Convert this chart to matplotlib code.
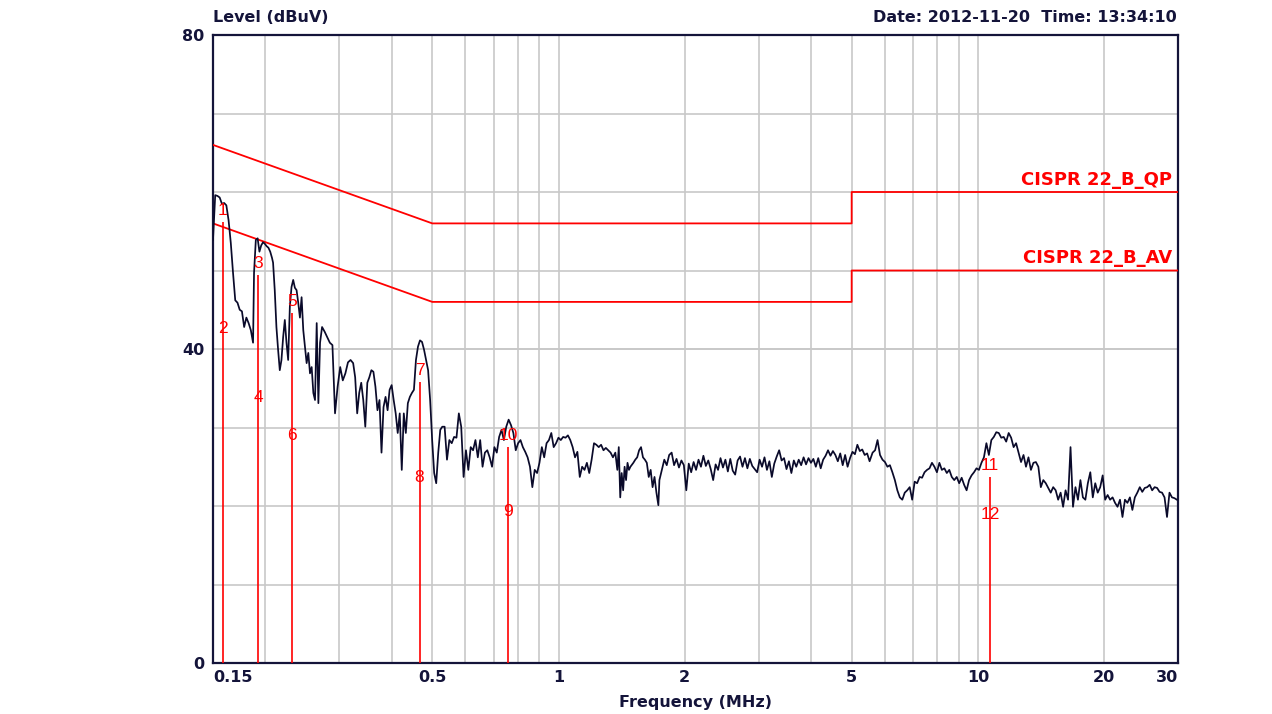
import numpy as np
import matplotlib
matplotlib.use("Agg")
import matplotlib.pyplot as plt
from matplotlib.ticker import NullFormatter

# ---------------- data ----------------
# Measured trace, stored as sweep segments (start MHz, end MHz, levels dBuV, log-spaced sweep points)
seg_start_mhz = [0.150, 0.1879, 0.2086, 0.2730, 0.3274, 0.5281, 1.381, 1.508, 1.740, 5.609]
seg_end_mhz = [0.1869, 0.2074, 0.2700, 0.3238, 0.5224, 1.366, 1.484, 1.730, 5.517, 29.82]

lvl_seg1 = [53.9, 59.6, 59.5, 59.3, 58.5, 58.6, 58.3, 56.4, 53.5, 49.7, 46.2, 45.9, 45.0, 44.8,
            42.8, 44.0, 43.3, 42.4, 40.8]
lvl_seg2 = [49.7, 53.9, 54.1, 52.4, 53.2, 53.6, 53.4, 53.1, 52.9, 52.4, 51.6]
lvl_seg3 = [51.0, 47.5, 42.8, 39.9, 37.3, 38.6, 41.5, 43.7, 40.8, 38.6, 45.4, 47.9, 48.8, 47.8,
            47.5, 45.9, 44.0, 46.6, 42.4, 40.3, 38.2, 39.5, 36.9, 37.7, 34.4, 33.5, 43.3, 33.1, 40.8]
lvl_seg4 = [42.8, 42.2, 41.5, 40.8, 40.5, 31.8, 35.2, 37.7, 36.0, 36.9, 38.3, 38.6, 38.2]
lvl_seg5 = [36.4, 31.8, 34.4, 35.7, 33.5, 30.1, 35.7, 36.4, 37.3, 37.1, 35.2, 32.2, 33.5, 26.8,
            32.6, 33.9, 32.2, 34.8, 35.4, 33.5, 31.8, 29.3, 31.8, 24.6, 31.8, 29.3, 33.1, 33.9,
            34.4, 34.8, 38.6, 40.3, 41.1, 40.9, 39.9, 38.6, 37.3, 33.5, 28.4, 24.2, 22.9, 26.8, 29.7]
lvl_seg6 = [30.1, 30.1, 25.9, 28.4, 28.0, 28.8, 28.7, 31.8, 30.1, 23.7,
            27.1, 24.6, 27.5, 27.1, 28.4, 26.2, 28.4, 25.0, 26.8, 27.1,
            26.2, 25.0, 27.5, 26.8, 28.8, 29.7, 28.4, 30.1, 31.0, 30.3,
            29.3, 27.1, 28.0, 28.4, 27.5, 26.9, 26.2, 25.0, 22.4, 24.6,
            24.2, 25.5, 27.5, 26.2, 28.0, 28.4, 29.3, 27.5, 28.0, 28.7,
            28.4, 28.8, 28.7, 29.0, 28.4, 27.5, 26.2, 26.9, 23.7, 25.0,
            24.6, 25.5, 24.2, 25.9, 28.0, 27.8, 27.5, 27.8, 27.1, 27.4,
            27.1, 26.8, 26.2, 26.8]
lvl_seg7 = [24.6, 27.5, 21.1, 24.2, 22.0, 25.0, 23.3, 25.5, 24.6, 25.0]
lvl_seg8 = [25.5, 25.9, 26.2, 27.1, 27.5, 26.2, 25.9, 25.5, 23.7, 24.6, 22.4, 23.7, 21.7, 20.1]
lvl_seg9 = [23.3, 24.6, 25.9, 25.2, 26.5, 26.8, 25.2, 26.0, 24.9, 25.8,
            25.2, 22.0, 25.4, 24.3, 25.6, 24.6, 25.9, 25.0, 26.4, 25.1,
            25.8, 24.7, 23.3, 25.3, 24.6, 26.1, 24.9, 25.9, 24.4, 26.0,
            24.5, 24.0, 25.8, 26.3, 25.0, 26.1, 24.8, 26.0, 25.1, 24.7,
            24.3, 25.9, 25.0, 26.2, 24.6, 25.7, 23.7, 25.4, 26.3, 27.1,
            25.8, 26.1, 24.7, 25.7, 24.2, 25.8, 25.0, 25.9, 25.2, 26.2,
            25.3, 26.1, 25.5, 26.0, 25.0, 26.1, 24.8, 25.9, 26.4, 27.1,
            26.4, 27.0, 26.5, 25.7, 26.7, 25.2, 26.5, 25.0, 26.1, 26.9,
            26.6, 27.8, 27.0, 27.2, 26.5, 26.7, 25.7]
lvl_seg10 = [26.8, 27.1, 28.4, 26.5, 25.9, 25.6, 25.0, 25.2, 24.3, 23.3,
             22.0, 21.1, 20.8, 21.7, 22.0, 22.4, 20.8, 23.1, 22.9, 23.7,
             23.6, 24.3, 24.6, 24.8, 25.5, 25.0, 24.3, 25.5, 24.6, 24.8,
             24.2, 24.6, 23.7, 23.3, 23.7, 22.9, 23.6, 22.7, 22.0, 23.3,
             23.9, 24.3, 24.8, 24.6, 25.5, 26.2, 28.0, 26.5, 28.4, 28.8,
             29.4, 29.3, 28.7, 28.8, 28.2, 29.3, 28.7, 27.5, 28.0, 26.8,
             25.6, 26.5, 25.0, 26.2, 24.6, 25.5, 25.6, 25.0, 22.4, 23.3,
             22.9, 22.3, 21.7, 22.4, 22.0, 20.8, 21.7, 19.9, 22.0, 20.8,
             27.5, 19.9, 22.4, 20.8, 23.3, 21.1, 20.8, 22.9, 24.3, 21.1,
             22.9, 21.7, 22.4, 23.9, 20.8, 21.4, 20.8, 21.1, 20.4, 19.9,
             20.8, 18.6, 20.8, 20.4, 21.1, 19.5, 21.1, 21.7, 22.4, 21.8,
             22.3, 22.4, 22.7, 22.0, 22.4, 22.3, 21.8, 21.7, 21.1, 18.6,
             21.7, 21.1, 21.0, 20.8]

# CISPR 22 class B limits
limit_freq = [0.15, 0.5, 5, 5, 30]
qp_limit = [66, 56, 56, 60, 60]
av_limit = [56, 46, 46, 50, 50]

# markers
marker_freq = [0.1582, 0.1924, 0.2319, 0.4662, 0.7588, 10.69]
marker_top = [56.2, 49.4, 44.6, 35.8, 27.5, 23.7]
marker_top_label = ["1", "3", "5", "7", "10", "11"]
marker_low = [42.8, 34.0, 29.2, 23.8, 19.5, 19.1]
marker_low_label = ["2", "4", "6", "8", "9", "12"]

xtick_vals = [0.15, 0.5, 1, 2, 5, 10, 20, 30]
xtick_labels = ["0.15", "0.5", "1", "2", "5", "10", "20", "30"]
xgrid_vals = [0.2, 0.3, 0.4, 0.5, 0.6, 0.7, 0.8, 0.9, 1, 2, 3, 4, 5, 6, 7, 8, 9, 10, 20]
ytick_vals = [0, 40, 80]
ygrid_vals = [10, 20, 30, 40, 50, 60, 70]

# ---------------- plot ----------------
segs = [lvl_seg1, lvl_seg2, lvl_seg3, lvl_seg4, lvl_seg5, lvl_seg6, lvl_seg7, lvl_seg8, lvl_seg9, lvl_seg10]
freq = np.concatenate([np.geomspace(s, e, len(l)) for s, e, l in zip(seg_start_mhz, seg_end_mhz, segs)])
level = np.concatenate([np.asarray(l, float) for l in segs])

W, H = 1272, 714
fig = plt.figure(figsize=(W / 100, H / 100), dpi=100)
fig.patch.set_facecolor("white")
ax = fig.add_axes([213 / W, 1 - 663 / H, (1178 - 213) / W, (663 - 35) / H])
ax.set_xscale("log")
ax.set_xlim(0.15, 30)
ax.set_ylim(0, 80)

navy = "#14143a"
red = "#ff0000"
bold = dict(family="DejaVu Sans", weight="bold", size=11.5, color=navy)

ax.xaxis.remove_overlapping_locs = False
ax.yaxis.remove_overlapping_locs = False
ax.set_xticks(xtick_vals)
ax.set_xticklabels(xtick_labels)
ax.set_xticks(xgrid_vals, minor=True)
ax.xaxis.set_minor_formatter(NullFormatter())
ax.set_yticks(ytick_vals)
ax.set_yticklabels([str(v) for v in ytick_vals])
ax.set_yticks(ygrid_vals, minor=True)
ax.yaxis.set_minor_formatter(NullFormatter())
ax.tick_params(which="both", length=0)
ax.tick_params(axis="x", pad=5)
ax.tick_params(axis="y", pad=6)
for lab in ax.get_xticklabels() + ax.get_yticklabels():
    lab.set_fontfamily("DejaVu Sans")
    lab.set_fontweight("bold")
    lab.set_fontsize(11.5)
    lab.set_color(navy)
xl = ax.get_xticklabels()
xl[0].set_ha("left")
xl[-1].set_ha("right")
ax.grid(False, which="major", axis="x")
ax.grid(True, which="minor", axis="x", color="#c8c8c8", lw=1.2)
ax.grid(True, which="both", axis="y", color="#c8c8c8", lw=1.2)
ax.set_axisbelow(True)
for sp in ax.spines.values():
    sp.set_color(navy)
    sp.set_linewidth(1.6)

# limits
ax.plot(limit_freq, qp_limit, color=red, lw=1.3, zorder=3)
ax.plot(limit_freq, av_limit, color=red, lw=1.3, zorder=3)
ax.text(29.0, qp_limit[-1] + 0.4, "CISPR 22_B_QP", ha="right", va="bottom",
        family="DejaVu Sans", weight="bold", size=13, color=red, zorder=6)
ax.text(29.0, av_limit[-1] + 0.4, "CISPR 22_B_AV", ha="right", va="bottom",
        family="DejaVu Sans", weight="bold", size=13, color=red, zorder=6)

# markers
ax.vlines(marker_freq, 0, marker_top, color=red, lw=1.2, zorder=4)
for f, v, t in zip(marker_freq, marker_top, marker_top_label):
    ax.annotate(t, (f, v), xytext=(0, 3), textcoords="offset points", ha="center", va="bottom",
                family="Liberation Sans", size=12.5, color=red, zorder=7)
for f, v, t in zip(marker_freq, marker_low, marker_low_label):
    ax.text(f, v, t, ha="center", va="center_baseline",
            family="Liberation Sans", size=12.5, color=red, zorder=7)

# trace
ax.plot(freq, level, color="#0a0a2a", lw=1.25, zorder=5)

# texts
ax.set_xlabel("Frequency (MHz)", labelpad=7, **bold)
fig.text(213 / W, 1 - 17 / H, "Level (dBuV)", ha="left", va="center", **bold)
fig.text(1177 / W, 1 - 17 / H, "Date: 2012-11-20  Time: 13:34:10", ha="right", va="center", **bold)

fig.savefig("out.png", dpi=100, facecolor="white")
